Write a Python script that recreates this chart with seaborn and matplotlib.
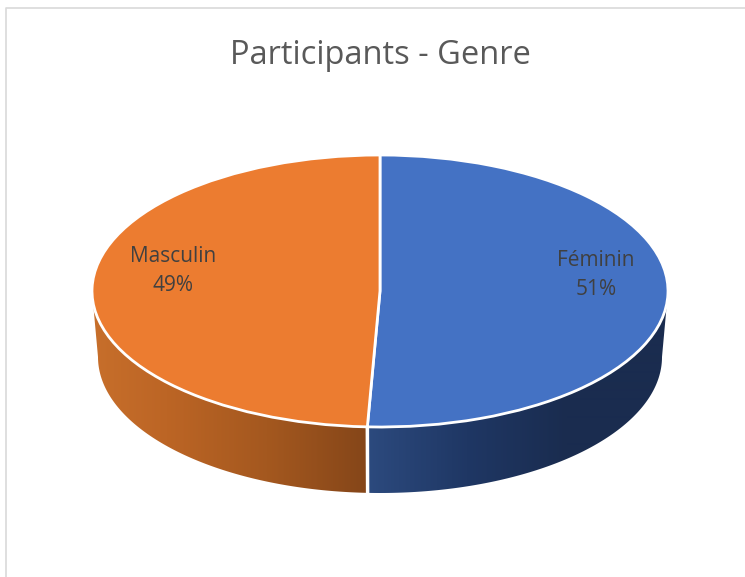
import numpy as np
import matplotlib
matplotlib.use("Agg")
import matplotlib.pyplot as plt
import seaborn as sns
from matplotlib.colors import LinearSegmentedColormap
from matplotlib.lines import Line2D
from matplotlib.patches import Polygon

# ---- data ----
categories = ["Féminin", "Masculin"]
shares = [50.7, 49.3]
shown_pct = ["51%", "49%"]
top_colors = ["#4472C4", "#EC7C30"]
title = "Participants - Genre"

# ---- layout (pixels) ----
W, H = 745, 577
CX, CY, RX, RY = 380, 291, 288, 136
DEPTH, BOTTOM_RX = 66, 282

sns.set_theme(style="white")
plt.rcParams["font.family"] = ["Open Sans", "DejaVu Sans"]
fig = plt.figure(figsize=(W / 100, H / 100), dpi=100, facecolor="white")
ax = fig.add_axes([0, 0, 1, 1])

wedges, _ = ax.pie(shares, colors=sns.color_palette(top_colors), startangle=90,
                   counterclock=False, radius=1,
                   wedgeprops=dict(edgecolor="white", linewidth=2.0, zorder=3))

xlim = (-CX / RX, (W - CX) / RX)
ylim = ((CY - H) / RY, CY / RY)

# Side wall of the disc, derived from the same shares
split_deg = -90 + 360 * shares[0] / sum(shares)   # clockwise from +x, on the lower half
depth = DEPTH / RY
k = BOTTOM_RX / RX
split_x = np.cos(np.radians(split_deg))
wall_maps = [
    LinearSegmentedColormap.from_list("b", ["#2C4A7E", "#1F3764", "#1A2C4F", "#1A2C4F"]),
    LinearSegmentedColormap.from_list("o", ["#854619", "#A4581F", "#BC6525", "#CB722D"]),
]
ranges = [(0.0, split_deg), (split_deg, 180.0)]
gap = 0.35
for i, (a0, a1) in enumerate(ranges):
    a0 += gap if i == 1 else 0
    a1 -= gap if i == 0 else 0
    th = np.radians(np.linspace(a0, a1, 200))
    top = np.c_[np.cos(th), -np.sin(th)]
    bottom = np.c_[k * np.cos(th), -np.sin(th) - depth][::-1]
    outline = Polygon(np.r_[top, bottom], closed=True, facecolor="none", edgecolor="none",
                      transform=ax.transData)
    ax.add_patch(outline)
    # horizontal gradient: strength grows with the distance from the split
    xs = np.linspace(xlim[0], xlim[1], W)
    grad = np.clip(np.abs(xs - split_x) / (1.0 + abs(split_x)), 0, 1)[None, :]
    im = ax.imshow(grad, cmap=wall_maps[i], vmin=0, vmax=1, aspect="auto",
                   extent=(xlim[0], xlim[1], ylim[0], ylim[1]), zorder=1,
                   interpolation="bilinear")
    im.set_clip_path(outline)

ax.set_aspect("auto")
ax.set_xlim(*xlim)
ax.set_ylim(*ylim)
ax.axis("off")

# Data labels
label_pos = [(216 / RX, 16 / RY), (-207 / RX, 20 / RY)]
for name, pct, (x, y) in zip(categories, shown_pct, label_pos):
    ax.text(x, y, f"{name}\n{pct}", ha="center", va="center", color="#404040",
            fontsize=15, linespacing=1.5, zorder=5)

fig.text(CX / W, 1 - 55 / H, title, ha="center", va="center", color="#595959", fontsize=23.5)

# Chart-area border
fig.add_artist(Line2D([6.5 / W, 6.5 / W, 1], [0, 1 - 7.5 / H, 1 - 7.5 / H],
                      color="#D9D9D9", linewidth=1.2, transform=fig.transFigure))

fig.savefig("out.png", dpi=100, facecolor="white")
